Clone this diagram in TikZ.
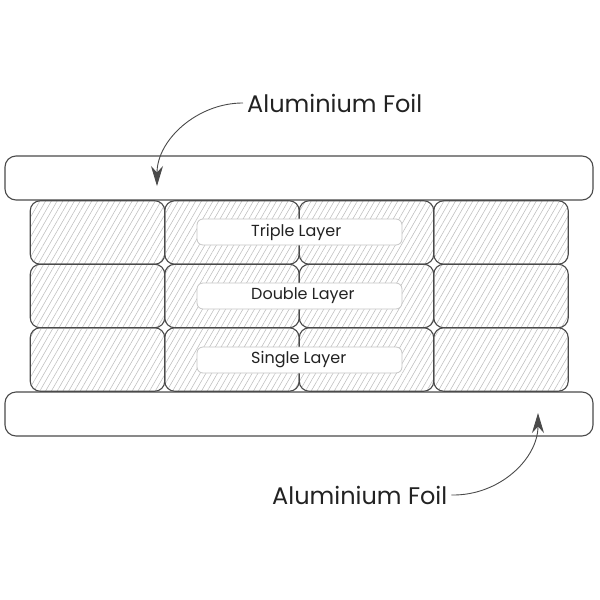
\documentclass[tikz,border=0pt]{standalone}
\usepackage{fontspec}
\setmainfont{Poppins}
\usetikzlibrary{arrows.meta,patterns.meta,positioning}

\definecolor{linegray}{HTML}{4A4A4A}
\definecolor{hatchgray}{HTML}{BDBDBD}
\definecolor{tagline}{HTML}{C6C6C6}
\definecolor{textgray}{HTML}{222222}

\tikzset{
    brick/.style={draw=linegray, line width=1.1pt, rounded corners=10pt, inner sep=0pt,
        minimum width=134.5pt, minimum height=63.5pt,
        pattern={Lines[angle=60,distance=5pt,line width=0.55pt]}, pattern color=hatchgray},
    foil/.style={draw=linegray, line width=1.1pt, rounded corners=11pt, fill=white,
        inner sep=0pt, minimum width=588pt, minimum height=44pt},
    tag/.style={draw=tagline, line width=0.8pt, fill=white, rounded corners=6pt, inner sep=0pt,
        minimum width=205pt, minimum height=26pt},
    foiltext/.style={font=\fontsize{24}{24}\selectfont, text=textgray, inner sep=0pt, anchor=base west},
    tagtext/.style={font=\fontsize{16}{16}\selectfont, text=textgray, inner sep=0pt, anchor=west},
    pointer/.style={draw=linegray, line width=0.9pt, -{Stealth[length=20pt,width=12pt]}}
}

\begin{document}
\begin{tikzpicture}[x=1pt,y=-1pt]
    \useasboundingbox (0,0) rectangle (600,600);

    % the two foil sheets
    \node[foil] (foiltop) at (299,178) {};
    \node[foil] (foilbot) at (299,414) {};

    % bricks, 4 columns x 3 rows
    \foreach \i in {0,...,3}
        \foreach \j in {0,1,2}
            \node[brick] (brick-\i-\j) at (97.5+134.5*\i, 232.5+63.5*\j) {};

    % layer tags
    \node[tag] (tagtriple) at (299.5,232) {};
    \node[tag] (tagdouble) at (299.5,296) {};
    \node[tag] (tagsingle) at (299.5,360) {};
    \node[tagtext] at (251,232) {Triple Layer};
    \node[tagtext] at (251,296) {Double Layer};
    \node[tagtext] at (251,360) {Single Layer};

    % captions and pointers
    \node[foiltext] (notetop) at (247,112) {Aluminium Foil};
    \node[foiltext] (notebot) at (272,504) {Aluminium Foil};
    \coordinate (tiptop) at (157,186);
    \coordinate (tipbot) at (538,413);
    \draw[pointer] ([xshift=-4pt]notetop.west) .. controls (197,103) and (157,140) .. (tiptop);
    \draw[pointer] ([xshift=4pt]notebot.east) .. controls (499,496) and (538,459) .. (tipbot);
\end{tikzpicture}
\end{document}
